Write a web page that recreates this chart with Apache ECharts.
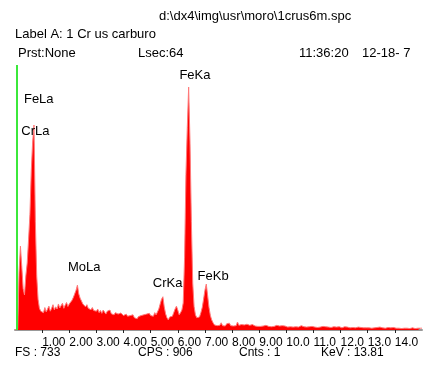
<!DOCTYPE html>
<html style="height: 100%">
  <head>
    <meta charset="UTF-8" />
    <title>EDS spectrum 1crus6m</title>
    <script src="https://cdn.jsdelivr.net/npm/echarts@6/dist/echarts.min.js"></script>
  </head>
  <body style="height: 100%; margin: 0; background: #fff">
    <div id="main" style="width: 425px; height: 365px"></div>
    <script>
      const chart = echarts.init(document.getElementById('main'))

      // keV per channel
      const channelWidth = 0.05

      // counts per channel, 0.00 .. 15.00 keV, one row = 1 keV
      const counts = [
        0, 0, 3, 160, 232, 175, 115, 97, 150, 185, 250, 320, 440, 520, 567, 300, 150, 85, 60, 52,
        55, 48, 62, 50, 58, 66, 52, 60, 70, 56, 64, 58, 72, 61, 66, 74, 60, 69, 76, 65,
        72, 76, 82, 90, 100, 110, 124, 100, 88, 80, 72, 76, 64, 70, 60, 64, 56, 62, 54, 58,
        52, 58, 48, 54, 46, 55, 50, 44, 52, 47, 55, 45, 50, 42, 48, 52, 44, 40, 47, 43,
        40, 36, 44, 38, 33, 40, 35, 42, 34, 38, 31, 37, 34, 40, 36, 42, 38, 44, 40, 46,
        40, 45, 38, 48, 42, 50, 58, 72, 85, 92, 64, 45, 34, 28, 36, 40, 38, 48, 58, 66,
        55, 42, 48, 55, 75, 200, 430, 560, 672, 520, 300, 130, 65, 42, 34, 38, 36, 48, 62, 85,
        110, 127, 95, 62, 40, 28, 20, 14, 18, 12, 16, 13, 20, 12, 15, 11, 17, 13, 19, 12,
        14, 11, 16, 12, 22, 13, 12, 15, 10, 14, 12, 16, 11, 13, 10, 15, 12, 11, 14, 10,
        12, 10, 14, 11, 9, 13, 11, 10, 15, 9, 12, 10, 11, 13, 9, 11, 10, 12, 9, 11,
        10, 8, 11, 9, 12, 8, 10, 9, 11, 8, 10, 12, 8, 9, 10, 8, 11, 9, 8, 10,
        9, 8, 10, 7, 9, 8, 7, 10, 8, 9, 7, 8, 10, 7, 8, 9, 7, 8, 6, 9,
        8, 6, 7, 9, 6, 8, 7, 6, 8, 7, 9, 6, 7, 8, 6, 7, 8, 6, 7, 6,
        7, 6, 8, 5, 7, 6, 5, 7, 6, 8, 5, 6, 7, 5, 6, 7, 5, 6, 5, 7,
        6, 5, 7, 5, 6, 4, 6, 5, 7, 5, 6, 4, 5, 6, 5, 4, 6, 5, 4, 5,
        5,
      ]

      const tickValues = [1, 2, 3, 4, 5, 6, 7, 8, 9, 10, 11, 12, 13, 14]

      // element line names, anchored in keV / counts
      const peakNames = ['C Ka', 'FeLa', 'CrLa', 'MoLa', 'CrKa', 'FeKa', 'FeKb']
      const peakAnchorKeV = [-0.06, 0.33, 0.23, 1.95, 5.08, 6.06, 6.73]
      const peakAnchorCounts = [263, 638, 548, 174, 130, 703, 149]

      const cursorKeV = 0.07
      const fullScale = 733

      const headerTexts = [
        ['d:\\dx4\\img\\usr\\moro\\1crus6m.spc', 159, 16.5, 13],
        ['Label A: 1 Cr us carburo', 15, 34, 13],
        ['Prst:None', 18, 53, 13],
        ['Lsec:64', 138, 53, 13],
        ['11:36:20', 299, 53, 13],
        ['12-18- 7', 362, 53, 13],
        ['FS : 733', 15, 353, 12],
        ['CPS : 906', 138, 353, 12],
        ['Cnts : 1', 239, 353, 12],
        ['KeV : 13.81', 321, 353, 12],
      ]

      const font = '"Liberation Sans", Arial, sans-serif'

      const spectrum = counts.map((c, i) => [+(i * channelWidth).toFixed(2), c])

      const option = {
        animation: false,
        backgroundColor: '#fff',
        grid: { left: 15, right: 3, top: 65, bottom: 35 },
        xAxis: {
          type: 'value',
          min: 0,
          max: 15,
          splitLine: { show: false },
          axisLine: { lineStyle: { color: '#999', width: 2 } },
          axisTick: {
            customValues: tickValues,
            length: 3,
            lineStyle: { color: '#222', width: 1 },
          },
          axisLabel: {
            customValues: tickValues,
            formatter: (v) => v.toFixed(2),
            align: 'left',
            margin: 7,
            color: '#000',
            fontFamily: font,
            fontSize: 12,
            width: 27,
            overflow: 'truncate',
            ellipsis: '',
            hideOverlap: false,
            showMaxLabel: true,
          },
        },
        yAxis: {
          type: 'value',
          min: 0,
          max: fullScale,
          show: false,
        },
        series: [
          {
            type: 'line',
            data: spectrum,
            symbol: 'none',
            lineStyle: { color: '#ff7a7a', width: 1 },
            areaStyle: { color: '#ff0000', opacity: 1 },
            markLine: {
              silent: true,
              symbol: 'none',
              label: { show: false },
              lineStyle: { color: '#3be83b', width: 2, type: 'solid' },
              data: [{ xAxis: cursorKeV }],
            },
            markPoint: {
              symbol: 'circle',
              symbolSize: 0,
              label: {
                show: true,
                position: 'inside',
                align: 'left',
                verticalAlign: 'middle',
                color: '#000',
                fontFamily: font,
                fontSize: 13,
                formatter: (p) => p.name,
              },
              data: peakNames.map((n, i) => ({
                name: n,
                coord: [peakAnchorKeV[i], peakAnchorCounts[i]],
              })),
            },
          },
        ],
        graphic: headerTexts.map(([t, x, y, size]) => ({
          type: 'text',
          x: x,
          y: y,
          style: {
            text: t,
            fill: '#000',
            font: size + 'px ' + font,
            verticalAlign: 'middle',
          },
        })),
      }

      chart.setOption(option)
    </script>
  </body>
</html>
